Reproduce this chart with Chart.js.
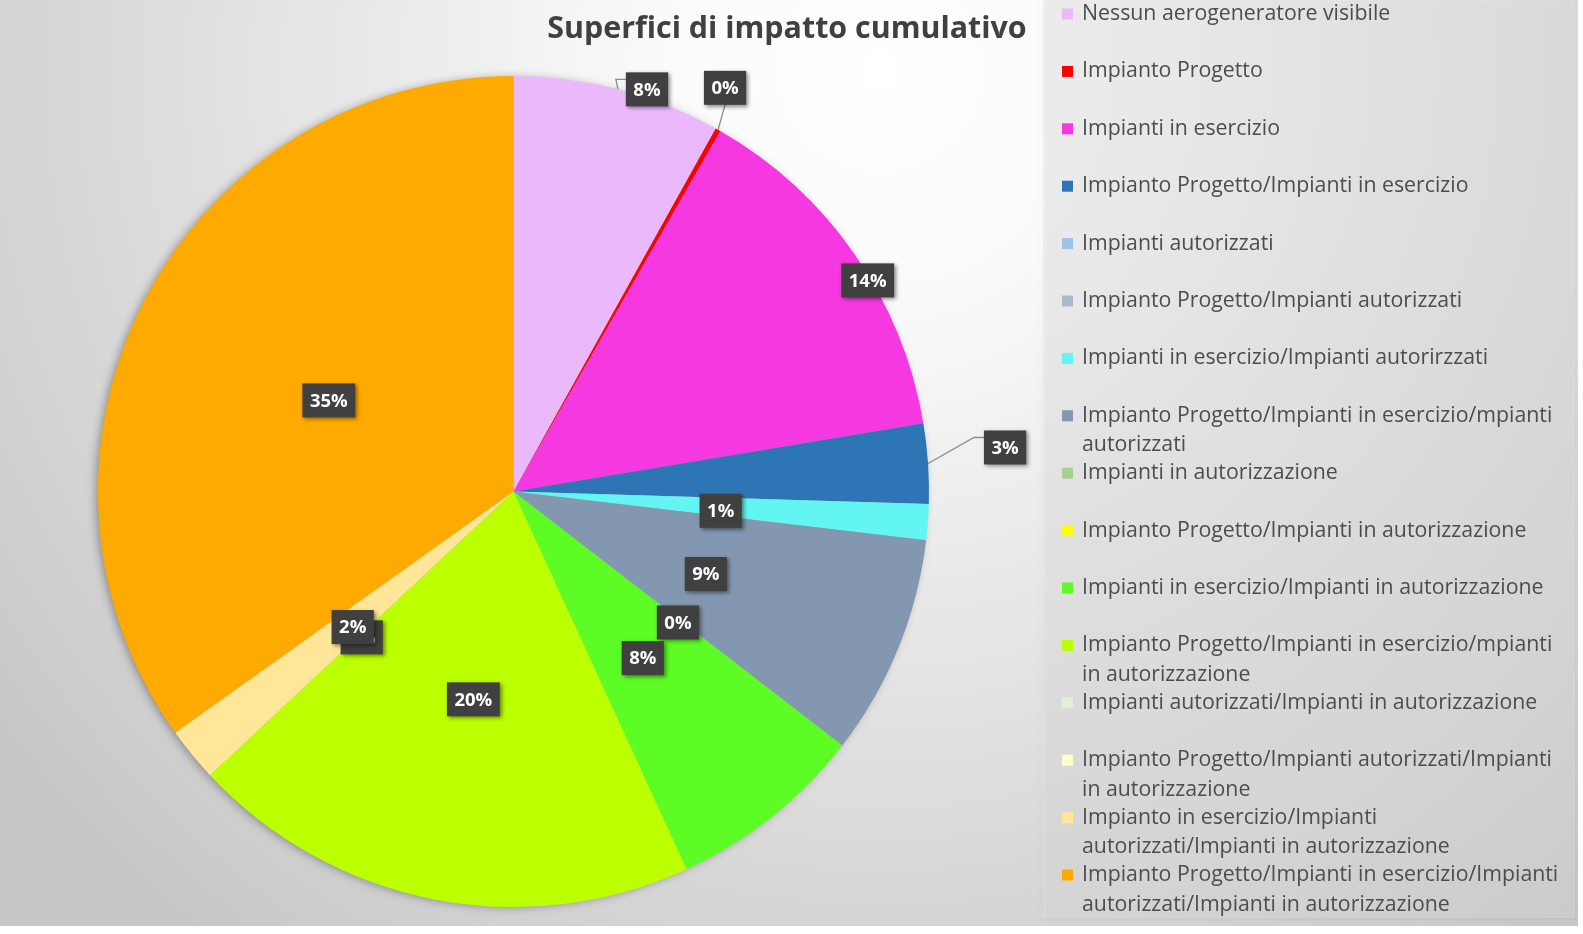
<!DOCTYPE html>
<html>
<head>
<meta charset="utf-8">
<script src="https://cdn.jsdelivr.net/npm/chart.js@4.4.1/dist/chart.umd.min.js"></script>
<style>
  html, body { margin: 0; padding: 0; background: #fff; overflow: hidden; }
  #wrap { width: 1583px; height: 934px; }
</style>
</head>
<body>
<div id="wrap"><canvas id="chart" width="1583" height="934"></canvas></div>
<script>
// chart data
const chartTitle = 'Superfici di impatto cumulativo';
const categories = [
    ['Nessun aerogeneratore visibile'],
    ['Impianto Progetto'],
    ['Impianti in esercizio'],
    ['Impianto Progetto/Impianti in esercizio'],
    ['Impianti autorizzati'],
    ['Impianto Progetto/Impianti autorizzati'],
    ['Impianti in esercizio/Impianti autorirzzati'],
    ['Impianto Progetto/Impianti in esercizio/mpianti', 'autorizzati'],
    ['Impianti in autorizzazione'],
    ['Impianto Progetto/Impianti in autorizzazione'],
    ['Impianti in esercizio/Impianti in autorizzazione'],
    ['Impianto Progetto/Impianti in esercizio/mpianti', 'in autorizzazione'],
    ['Impianti autorizzati/Impianti in autorizzazione'],
    ['Impianto Progetto/Impianti autorizzati/Impianti', 'in autorizzazione'],
    ['Impianto in esercizio/Impianti', 'autorizzati/Impianti in autorizzazione'],
    ['Impianto Progetto/Impianti in esercizio/Impianti', 'autorizzati/Impianti in autorizzazione']
];
// share of surface, % (null = no value)
const shares = [8.1, 0.2, 14.1, 3.1, null, null, 1.4, 8.6, 0, null, 7.7, 19.9, null, 0, 2.1, 34.9];
const sliceColors = [
    '#EBB8FC', '#FF0000', '#F538E0', '#2E75B6', '#9DC3E6', '#ADB9CA', '#63F5F2', '#8497B0',
    '#A9D18E', '#FFFF00', '#5CFC24', '#BBFF00', '#E2F0D9', '#FFFFCC', '#FFE699', '#FFAA00'
];

// where Excel put the labels that are not at the slice middle
const labelPlace = {
    0: { dx: 29, dy: 0, leader: 'side' },
    1: { dx: 7, dy: -42, leader: 'bottom' },
    2: { dx: 13, dy: 26 },
    3: { dx: 77, dy: -16, leader: 'side' }
};

const backgroundPlugin = {
    id: 'background',
    beforeDraw(chart) {
        const ctx = chart.ctx;
        ctx.save();
        ctx.fillStyle = '#fff';
        ctx.fillRect(0, 0, chart.width, chart.height);
        const g = ctx.createRadialGradient(880, 70, 0, 880, 70, 1120);
        g.addColorStop(0, '#ffffff');
        g.addColorStop(0.2, '#fafafa');
        g.addColorStop(1, '#c6c6c6');
        ctx.fillStyle = g;
        ctx.fillRect(0, 0, 1578, 926);
        // legend panel
        ctx.shadowColor = 'rgba(0,0,0,0.18)';
        ctx.shadowBlur = 4;
        ctx.shadowOffsetX = 1;
        ctx.shadowOffsetY = 1;
        ctx.fillStyle = 'rgba(235,235,235,0.35)';
        ctx.fillRect(1043, -2, 532, 920);
        ctx.restore();
    },
    beforeDatasetsDraw(chart) {
        const arc = chart.getDatasetMeta(0).data[0];
        if (!arc) return;
        const ctx = chart.ctx;
        ctx.save();
        ctx.shadowColor = 'rgba(0,0,0,0.35)';
        ctx.shadowBlur = 10;
        ctx.shadowOffsetX = -3;
        ctx.shadowOffsetY = 1;
        ctx.fillStyle = '#b0b0b0';
        ctx.beginPath();
        ctx.arc(arc.x, arc.y, arc.outerRadius - 1, 0, Math.PI * 2);
        ctx.fill();
        ctx.restore();
    }
};

const pctLabelPlugin = {
    id: 'pctLabels',
    afterDatasetsDraw(chart) {
        const ctx = chart.ctx;
        const meta = chart.getDatasetMeta(0);
        const data = chart.data.datasets[0].data;
        const total = data.reduce((a, b) => a + (b || 0), 0);
        ctx.save();
        ctx.font = 'bold 18.5px "Open Sans", sans-serif';
        ctx.textAlign = 'center';
        ctx.textBaseline = 'middle';
        meta.data.forEach((arc, i) => {
            if (data[i] === null) return;
            const p = arc.getProps(['x', 'y', 'startAngle', 'endAngle', 'outerRadius'], true);
            const mid = (p.startAngle + p.endAngle) / 2;
            const place = labelPlace[i];
            let cx, cy, ex, ey;
            if (!place) {
                const t = arc.tooltipPosition(true);
                cx = t.x; cy = t.y + 4;
            } else {
                ex = p.x + Math.cos(mid) * p.outerRadius;
                ey = p.y + Math.sin(mid) * p.outerRadius;
                cx = ex + place.dx;
                cy = ey + place.dy;
            }
            const txt = Math.round(data[i] / total * 100) + '%';
            const w = ctx.measureText(txt).width + 15;
            const h = 34;
            const bx = cx - w / 2, by = cy - h / 2;
            if (place && place.leader) {
                ctx.strokeStyle = '#8c8c8c';
                ctx.lineWidth = 1.3;
                ctx.beginPath();
                ctx.moveTo(ex, ey);
                if (place.leader === 'side') {
                    ctx.lineTo(bx - 10, by + 7);
                    ctx.lineTo(bx, by + 7);
                } else {
                    ctx.lineTo(cx, by + h);
                }
                ctx.stroke();
            }
            ctx.shadowColor = 'rgba(0,0,0,0.45)';
            ctx.shadowBlur = 4;
            ctx.shadowOffsetX = 2;
            ctx.shadowOffsetY = 2;
            ctx.fillStyle = '#404040';
            ctx.fillRect(bx, by, w, h);
            ctx.shadowColor = 'transparent';
            ctx.fillStyle = '#ffffff';
            ctx.fillText(txt, cx, cy + 1);
        });
        ctx.restore();
    }
};

const sideLegendPlugin = {
    id: 'sideLegend',
    afterDraw(chart) {
        const ctx = chart.ctx;
        const labels = chart.data.labels;
        const colors = chart.data.datasets[0].backgroundColor;
        ctx.save();
        // title
        ctx.fillStyle = '#404040';
        ctx.font = 'bold 30.4px "Open Sans", sans-serif';
        ctx.textAlign = 'center';
        ctx.textBaseline = 'alphabetic';
        ctx.fillText(chartTitle, 787, 38);
        // legend, one row every 57.4px like the original
        ctx.font = '21.3px "Open Sans", sans-serif';
        ctx.textAlign = 'left';
        ctx.textBaseline = 'middle';
        labels.forEach((lines, i) => {
            const y = 14 + i * 57.4;
            ctx.fillStyle = colors[i];
            ctx.fillRect(1062, y - 5.5, 11, 11);
            ctx.fillStyle = '#4d4d4d';
            lines.forEach((line, k) => ctx.fillText(line, 1082, y + k * 29.5));
        });
        ctx.restore();
    }
};

new Chart(document.getElementById('chart'), {
    type: 'pie',
    data: {
        labels: categories,
        datasets: [{
            data: shares,
            backgroundColor: sliceColors,
            borderWidth: 0
        }]
    },
    options: {
        responsive: false,
        animation: false,
        layout: { padding: { top: 76, bottom: 27, left: 98, right: 654 } },
        plugins: {
            legend: { display: false },
            title: { display: false },
            tooltip: { enabled: false }
        }
    },
    plugins: [backgroundPlugin, pctLabelPlugin, sideLegendPlugin]
});
</script>
</body>
</html>
